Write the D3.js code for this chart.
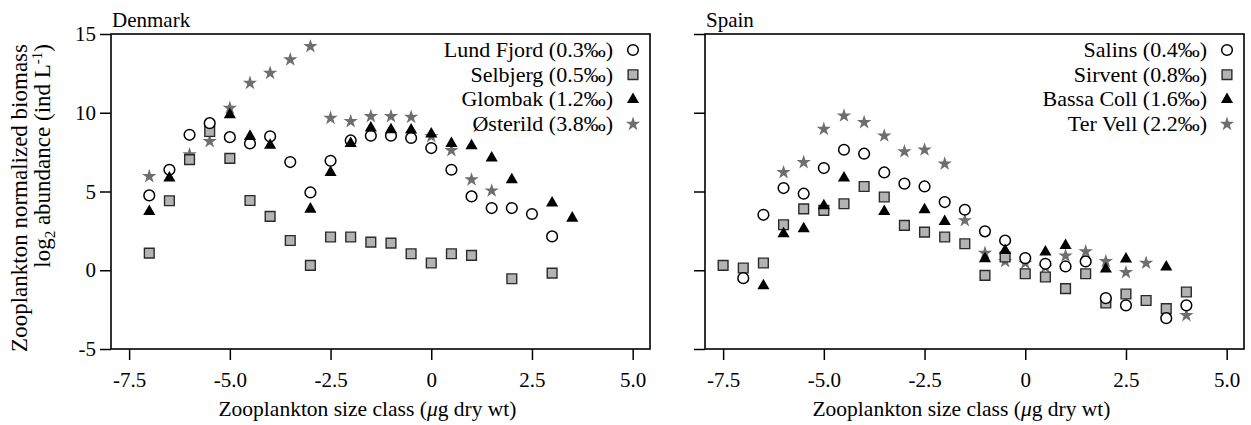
<!DOCTYPE html>
<html>
<head>
<meta charset="utf-8">
<script src="https://cdn.jsdelivr.net/npm/d3@7"></script>
<style>
body { margin: 0; background: #fff; }
svg text { font-family: "Liberation Serif", "Times New Roman", serif; fill: #000; }
</style>
</head>
<body>
<div id="chart"></div>
<script>
// size classes shared by both panels (log2 ug dry wt)
var sizeClass = [-7.5, -7, -6.5, -6, -5.5, -5, -4.5, -4, -3.5, -3, -2.5, -2, -1.5, -1, -0.5, 0, 0.5, 1, 1.5, 2, 2.5, 3, 3.5, 4];

// Denmark
var lundFjord = [null, 4.75, 6.38, 8.6, 9.34, 8.45, 8.05, 8.5, 6.87, 4.94, 6.95, 8.24, 8.54, 8.54, 8.4, 7.76, 6.38, 4.69, 3.95, 3.95, 3.57, 2.15, null, null];
var selbjerg = [null, 1.09, 4.41, 7.02, 8.81, 7.1, 4.43, 3.42, 1.89, 0.31, 2.11, 2.11, 1.79, 1.72, 1.05, 0.46, 1.05, 0.94, null, -0.54, null, -0.18, null, null];
var glombak = [null, 3.73, 5.85, null, null, 9.87, 8.5, 7.93, null, 3.88, 6.21, 8.05, 9.03, 8.92, 8.9, 8.65, 8.05, 7.9, 7.12, 5.75, null, 4.27, 3.31, null];
var osterild = [null, 5.96, null, 7.35, 8.18, 10.3, 11.88, 12.52, 13.37, 14.21, 9.66, 9.45, 9.77, 9.77, 9.72, 8.5, 7.61, 5.75, 5.05, null, null, null, null, null];

// Spain
var salins = [null, -0.5, 3.52, 5.22, 4.86, 6.49, 7.65, 7.4, 6.21, 5.5, 5.32, 4.33, 3.84, 2.47, 1.89, 0.77, 0.41, 0.24, 0.56, -1.77, -2.23, null, -3.04, -2.23];
var sirvent = [0.31, 0.14, 0.46, 2.89, 3.9, 3.8, 4.22, 5.32, 4.65, 2.85, 2.42, 2.11, 1.68, -0.33, 0.84, -0.22, -0.43, -1.17, -0.22, -2.08, -1.51, -1.92, -2.44, -1.38];
var bassaColl = [null, null, -0.98, 2.32, 2.63, 4.1, 5.85, null, 3.73, null, 3.84, 3.1, null, 0.73, 1.26, null, 1.16, 1.57, null, 0.08, 0.71, null, 0.2, null];
var terVell = [null, null, null, 6.21, 6.85, 8.96, 9.81, 9.39, 8.54, 7.54, 7.65, 6.76, 3.16, 1.09, 0.56, 0.46, 0.2, 0.92, 1.19, 0.56, -0.14, 0.46, null, -2.87];

var denmarkSites = ["Lund Fjord (0.3\u2030)", "Selbjerg (0.5\u2030)", "Glombak (1.2\u2030)", "\u00D8sterild (3.8\u2030)"];
var spainSites = ["Salins (0.4\u2030)", "Sirvent (0.8\u2030)", "Bassa Coll (1.6\u2030)", "Ter Vell (2.2\u2030)"];

var xTicks = [-7.5, -5, -2.5, 0, 2.5, 5];
var yTicks = [-5, 0, 5, 10, 15];

var width = 1251,
    height = 425,
    plotTop = 34,
    plotW = 539,
    plotH = 315;

var svg = d3.select("#chart")
  .append("svg")
    .attr("width", width)
    .attr("height", height);

var x = d3.scaleLinear().domain([-7.95, 5.43]).range([0, plotW]);
var y = d3.scaleLinear().domain([-5, 15]).range([plotH, 0]);

// one marker per site, same order in both panels
var markers = [
  {type: d3.symbolCircle, size: 90, fill: "#fff", stroke: "#000", sw: 1.5},
  {type: d3.symbolSquare, size: 95, fill: "#b3b3b3", stroke: "#2a2a2a", sw: 1.4},
  {type: d3.symbolTriangle, size: 64, fill: "#000", stroke: "none", sw: 0},
  {type: d3.symbolStar, size: 64, fill: "#6e6e6e", stroke: "none", sw: 0}
];
// stars at the back, triangles on top
var drawOrder = [3, 1, 0, 2];

// plain hyphen for negatives, as in the original figure
function xFormat(d) { return d === 0 ? "0" : d3.format(".1f")(d).replace("\u2212", "-"); }
function yFormat(d) { return String(d); }

function drawPanel(left, title, sites, series, showYLabels) {
  var g = svg.append("g")
    .attr("transform", "translate(" + left + "," + plotTop + ")");

  // x axis
  g.append("g")
    .attr("transform", "translate(0," + plotH + ")")
    .call(d3.axisBottom(x).tickValues(xTicks).tickFormat(xFormat).tickSize(11).tickPadding(12).tickSizeOuter(0));

  // y axis
  g.append("g")
    .call(d3.axisLeft(y).tickValues(yTicks).tickSize(11).tickPadding(4).tickSizeOuter(0)
      .tickFormat(showYLabels ? yFormat : function() { return ""; }));

  g.selectAll(".domain").remove();
  g.selectAll(".tick line").attr("stroke", "#000").attr("stroke-width", 1.5);
  g.selectAll(".tick text").style("font-size", "21px").attr("fill", "#000");

  // frame
  g.append("rect")
    .attr("width", plotW)
    .attr("height", plotH)
    .attr("fill", "none")
    .attr("stroke", "#000")
    .attr("stroke-width", 1.6);

  // panel title
  g.append("text")
    .attr("x", 1)
    .attr("y", -7)
    .style("font-size", "21px")
    .text(title);

  // x axis title
  var xt = g.append("text")
    .attr("x", plotW / 2 - 13)
    .attr("y", plotH + 67)
    .attr("text-anchor", "middle")
    .style("font-size", "21.5px");
  xt.append("tspan").text("Zooplankton size class (");
  xt.append("tspan").style("font-style", "italic").text("\u03BC");
  xt.append("tspan").text("g dry wt)");

  // points
  drawOrder.forEach(function(k) {
    var m = markers[k];
    var pts = sizeClass.map(function(s, i) { return {x: s, v: series[k][i]}; })
      .filter(function(d) { return d.v !== null; });
    g.append("g").selectAll("path")
      .data(pts)
      .enter()
      .append("path")
        .attr("transform", function(d) { return "translate(" + x(d.x) + "," + y(d.v) + ")"; })
        .attr("d", d3.symbol().type(m.type).size(m.size))
        .attr("fill", m.fill)
        .attr("stroke", m.stroke)
        .attr("stroke-width", m.sw);
  });

  // legend
  var leg = g.append("g").selectAll("g")
    .data(sites)
    .enter()
    .append("g")
      .attr("transform", function(d, i) { return "translate(" + (plotW - 17) + "," + (16 + i * 24.7) + ")"; });
  leg.append("text")
    .attr("x", -20)
    .attr("y", 7)
    .attr("text-anchor", "end")
    .style("font-size", "22px")
    .text(function(d) { return d; });
  leg.append("path")
    .attr("d", function(d, i) { return d3.symbol().type(markers[i].type).size(markers[i].size)(); })
    .attr("fill", function(d, i) { return markers[i].fill; })
    .attr("stroke", function(d, i) { return markers[i].stroke; })
    .attr("stroke-width", function(d, i) { return markers[i].sw; });
}

drawPanel(111, "Denmark", denmarkSites, [lundFjord, selbjerg, glombak, osterild], true);
drawPanel(705, "Spain", spainSites, [salins, sirvent, bassaColl, terVell], false);

// y axis title, two lines anchored at the top
svg.append("text")
  .attr("transform", "translate(27,44) rotate(-90)")
  .attr("text-anchor", "end")
  .style("font-size", "23px")
  .text("Zooplankton normalized biomass");

var yl2 = svg.append("text")
  .attr("transform", "translate(50,44) rotate(-90)")
  .attr("text-anchor", "end")
  .style("font-size", "23px");
yl2.append("tspan").text("log");
yl2.append("tspan").attr("dy", 5).style("font-size", "15px").text("2");
yl2.append("tspan").attr("dy", -5).text(" abundance (ind L");
yl2.append("tspan").attr("dy", -8).style("font-size", "15px").text("-1");
yl2.append("tspan").attr("dy", 8).text(")");
</script>
</body>
</html>
